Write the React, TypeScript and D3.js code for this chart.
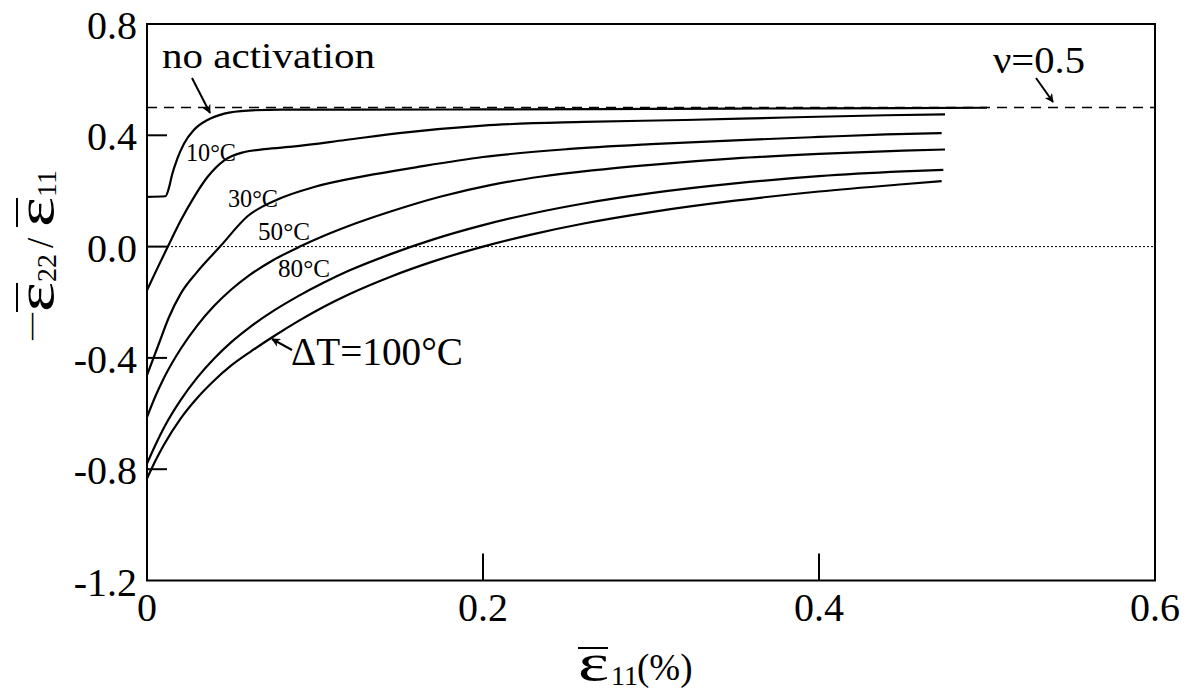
import React, { useRef, useLayoutEffect } from 'react';
import * as d3 from 'd3';

const xNoAct = [0, 0.011, 0.013, 0.015, 0.018, 0.022, 0.028, 0.036, 0.046, 0.06, 0.08, 0.12, 0.2, 0.3, 0.4, 0.5];
const yNoAct = [0.179, 0.181, 0.21, 0.26, 0.315, 0.37, 0.42, 0.455, 0.478, 0.489, 0.492, 0.492, 0.493, 0.495, 0.497, 0.499];

const x10 = [0, 0.006, 0.012, 0.02, 0.028, 0.036, 0.046, 0.058, 0.07, 0.088, 0.118, 0.15, 0.2, 0.26, 0.32, 0.38, 0.44, 0.475];
const y10 = [-0.157, -0.08, -0.005, 0.093, 0.178, 0.25, 0.31, 0.34, 0.35, 0.36, 0.383, 0.408, 0.435, 0.448, 0.455, 0.464, 0.472, 0.475];

const x30 = [0, 0.007, 0.013, 0.02, 0.03, 0.0435, 0.06, 0.078, 0.1, 0.13, 0.16, 0.2, 0.25, 0.3, 0.35, 0.4, 0.44, 0.473];
const y30 = [-0.462, -0.35, -0.255, -0.17, -0.09, 0.0, 0.11, 0.17, 0.215, 0.254, 0.285, 0.322, 0.35, 0.368, 0.382, 0.394, 0.403, 0.408];

const x50 = [0, 0.005, 0.01, 0.02, 0.03, 0.04, 0.05, 0.06, 0.075, 0.091, 0.105, 0.12, 0.145, 0.175, 0.205, 0.235, 0.265, 0.3, 0.35, 0.4, 0.45, 0.475];
const y50 = [-0.613, -0.538, -0.473, -0.368, -0.283, -0.213, -0.155, -0.107, -0.049, 0.0, 0.038, 0.074, 0.126, 0.18, 0.222, 0.252, 0.274, 0.294, 0.317, 0.333, 0.345, 0.349];

const x80 = [0, 0.005, 0.01, 0.02, 0.03, 0.04, 0.05, 0.0613, 0.075, 0.09, 0.105, 0.12, 0.145, 0.17, 0.2, 0.23, 0.26, 0.3, 0.35, 0.4, 0.45, 0.474];
const y80 = [-0.78, -0.713, -0.652, -0.552, -0.47, -0.402, -0.344, -0.289, -0.232, -0.178, -0.13, -0.087, -0.027, 0.025, 0.077, 0.12, 0.155, 0.192, 0.227, 0.253, 0.27, 0.276];

const x100 = [0, 0.005, 0.01, 0.02, 0.03, 0.04, 0.05, 0.0613, 0.075, 0.09, 0.105, 0.12, 0.145, 0.17, 0.2, 0.23, 0.26, 0.3, 0.35, 0.4, 0.45, 0.473];
const y100 = [-0.834, -0.77, -0.713, -0.618, -0.543, -0.481, -0.428, -0.379, -0.324, -0.268, -0.217, -0.172, -0.108, -0.054, 0.0, 0.045, 0.083, 0.124, 0.165, 0.198, 0.224, 0.235];

const seriesX = [xNoAct, x10, x30, x50, x80, x100];
const seriesY = [yNoAct, y10, y30, y50, y80, y100];

const yTickValues = [0.8, 0.4, 0.0, -0.4, -0.8, -1.2];
const yTickLabels = ['0.8', '0.4', '0.0', '-0.4', '-0.8', '-1.2'];
const xTickValues = [0, 0.2, 0.4, 0.6];
const xTickLabels = ['0', '0.2', '0.4', '0.6'];
const yInnerTicks = [0.4, 0.0, -0.4, -0.8];
const xInnerTicks = [0.2, 0.4];

const poisson = 0.5;

const FONT = "'Liberation Serif', 'DejaVu Serif', serif";

const App = () => {
    const ref = useRef<SVGSVGElement>(null);

    useLayoutEffect(() => {
        const svg = d3.select(ref.current);
        svg.selectAll('*').remove();

        const left = 147, right = 1155, top = 24, bottom = 580.5;

        const x = d3.scaleLinear().domain([0, 0.6]).range([left, right]);
        const y = d3.scaleLinear().domain([-1.2, 0.8]).range([bottom, top]);

        // arrow head used by the annotation arrows
        svg.append('defs').append('marker')
            .attr('id', 'arrowHead')
            .attr('viewBox', '0 0 10 10')
            .attr('refX', 9).attr('refY', 5)
            .attr('markerWidth', 12).attr('markerHeight', 9)
            .attr('markerUnits', 'userSpaceOnUse')
            .attr('orient', 'auto')
            .append('path')
            .attr('d', 'M0,0 L10,5 L0,10 L3,5 z')
            .attr('fill', '#000');

        // nu = 0.5 dashed line and zero dotted line
        svg.append('line')
            .attr('x1', left).attr('x2', right)
            .attr('y1', y(poisson)).attr('y2', y(poisson))
            .attr('stroke', '#000').attr('stroke-width', 1.3)
            .attr('stroke-dasharray', '10,7');
        svg.append('line')
            .attr('x1', left).attr('x2', right)
            .attr('y1', y(0)).attr('y2', y(0))
            .attr('stroke', '#000').attr('stroke-width', 1)
            .attr('stroke-dasharray', '2,2');

        // curves
        const line = d3.line<[number, number]>()
            .x(d => x(d[0]))
            .y(d => y(d[1]))
            .curve(d3.curveMonotoneX);

        seriesX.forEach((xs, i) => {
            const pts: [number, number][] = xs.map((v, j) => [v, seriesY[i][j]]);
            svg.append('path')
                .attr('d', line(pts))
                .attr('fill', 'none')
                .attr('stroke', '#000')
                .attr('stroke-width', 2.2);
        });

        // frame
        svg.append('rect')
            .attr('x', left).attr('y', top)
            .attr('width', right - left).attr('height', bottom - top)
            .attr('fill', 'none').attr('stroke', '#000').attr('stroke-width', 2);

        // inner ticks
        yInnerTicks.forEach(v => {
            svg.append('line')
                .attr('x1', left).attr('x2', left + 20)
                .attr('y1', y(v)).attr('y2', y(v))
                .attr('stroke', '#000').attr('stroke-width', 2);
        });
        xInnerTicks.forEach(v => {
            svg.append('line')
                .attr('x1', x(v)).attr('x2', x(v))
                .attr('y1', bottom).attr('y2', bottom - 27)
                .attr('stroke', '#000').attr('stroke-width', 2);
        });

        // tick labels
        yTickValues.forEach((v, i) => {
            svg.append('text')
                .attr('x', 137).attr('y', y(v) + 15)
                .attr('text-anchor', 'end')
                .style('font-family', FONT).style('font-size', '40px')
                .text(yTickLabels[i]);
        });
        xTickValues.forEach((v, i) => {
            svg.append('text')
                .attr('x', x(v)).attr('y', 621)
                .attr('text-anchor', 'middle')
                .style('font-family', FONT).style('font-size', '40px')
                .text(xTickLabels[i]);
        });

        // x axis title: overlined epsilon 11 (%)
        const xt = svg.append('g');
        xt.append('text').attr('x', 578).attr('y', 680)
            .attr('textLength', 31).attr('lengthAdjust', 'spacingAndGlyphs')
            .style('font-family', FONT).style('font-size', '52px').text('ε');
        xt.append('line').attr('x1', 578).attr('x2', 608).attr('y1', 648).attr('y2', 648)
            .attr('stroke', '#000').attr('stroke-width', 2);
        xt.append('text').attr('x', 611).attr('y', 685)
            .style('font-family', FONT).style('font-size', '28px').text('11');
        xt.append('text').attr('x', 637).attr('y', 680)
            .style('font-family', FONT).style('font-size', '37px').text('(%)');

        // y axis title, rotated, reading bottom to top
        const yt = svg.append('g').attr('transform', 'translate(53,340) rotate(-90)');
        yt.append('text').attr('x', 0).attr('y', -13)
            .attr('textLength', 27).attr('lengthAdjust', 'spacingAndGlyphs')
            .style('font-family', FONT).style('font-size', '30px').text('—');
        yt.append('text').attr('x', 28).attr('y', 0)
            .attr('textLength', 30).attr('lengthAdjust', 'spacingAndGlyphs')
            .style('font-family', FONT).style('font-size', '52px').text('ε');
        yt.append('line').attr('x1', 28).attr('x2', 57).attr('y1', -36).attr('y2', -36)
            .attr('stroke', '#000').attr('stroke-width', 2);
        yt.append('text').attr('x', 58).attr('y', 3)
            .style('font-family', FONT).style('font-size', '28px').text('22');
        yt.append('text').attr('x', 92).attr('y', 0)
            .style('font-family', FONT).style('font-size', '37px').text('/');
        yt.append('text').attr('x', 113).attr('y', 0)
            .attr('textLength', 30).attr('lengthAdjust', 'spacingAndGlyphs')
            .style('font-family', FONT).style('font-size', '52px').text('ε');
        yt.append('line').attr('x1', 113).attr('x2', 142).attr('y1', -36).attr('y2', -36)
            .attr('stroke', '#000').attr('stroke-width', 2);
        yt.append('text').attr('x', 143).attr('y', 3)
            .style('font-family', FONT).style('font-size', '28px').text('11');

        // curve annotations, each stretched to the width it has in the picture
        const label = (tx: number, ty: number, size: number, width: number, s: string) =>
            svg.append('text').attr('x', tx).attr('y', ty)
                .attr('textLength', width).attr('lengthAdjust', 'spacingAndGlyphs')
                .style('font-family', FONT).style('font-size', size + 'px').text(s);

        label(162, 68, 36, 213, 'no activation');
        label(186, 161, 25, 50, '10°C');
        label(228, 207, 25, 50, '30°C');
        label(258, 240, 25, 52, '50°C');
        label(278, 277, 25, 52, '80°C');
        label(291, 365, 39, 172, 'ΔT=100°C');
        label(993, 73, 37, 92, 'ν=0.5');

        const arrow = (x1: number, y1: number, x2: number, y2: number) =>
            svg.append('line')
                .attr('x1', x1).attr('y1', y1).attr('x2', x2).attr('y2', y2)
                .attr('stroke', '#000').attr('stroke-width', 2)
                .attr('marker-end', 'url(#arrowHead)');

        arrow(192, 78, 210, 113);
        arrow(292, 350, 272, 339);
        arrow(1036, 78, 1053, 102);
    }, []);

    return (
        <svg ref={ref} width={1187} height={695}
            style={{ position: 'absolute', left: 0, top: 0, background: '#fff' }} />
    );
};

export default App;
